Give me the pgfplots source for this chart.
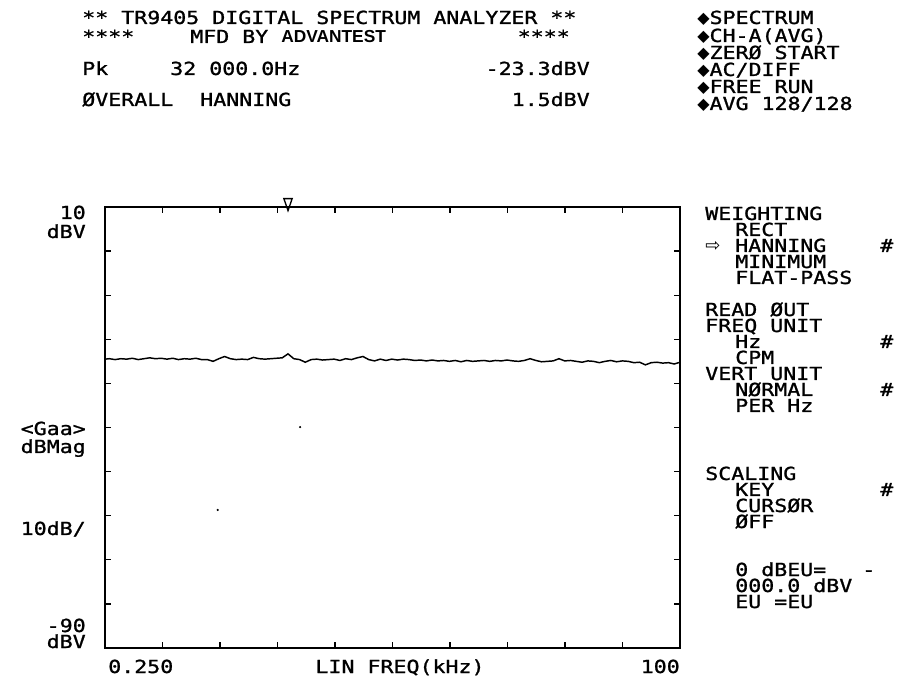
\documentclass[border=0pt]{standalone}
\usepackage{fontspec}
\setmainfont{DejaVu Sans Mono}[FakeStretch=1.2, FakeBold=1.2]
\newfontfamily\sym{DejaVu Sans}
\newfontfamily\logo{Liberation Sans}
\usepackage{pgfplots}
\pgfplotsset{compat=1.18}
\usepackage{pgfplotstable}

\pgfplotstableread{
f dB
0.25 -24.5
1 -24.4
2 -24.6
3 -24.4
4 -24.5
5 -24.3
6 -24.6
7 -24.4
8 -24.2
9 -24.4
10 -24.3
11 -24.5
12 -24.3
13 -24.6
14 -24.4
15 -24.5
16 -24.3
17 -24.6
18 -24.6
19 -25.0
20 -24.4
21 -23.9
22 -24.4
23 -24.6
24 -24.5
25 -24.6
26 -24.1
27 -24.4
28 -24.5
29 -24.4
30 -24.3
31 -24.2
32 -23.3
33 -24.4
34 -24.6
35 -25.2
36 -24.6
37 -24.5
38 -24.7
39 -24.6
40 -24.5
41 -24.8
42 -24.4
43 -24.6
44 -24.2
45 -23.9
46 -24.6
47 -24.9
48 -24.5
49 -24.8
50 -24.5
51 -24.7
52 -24.5
53 -24.6
54 -24.8
55 -24.7
56 -24.9
57 -24.7
58 -24.9
59 -24.8
60 -25.0
61 -24.8
62 -25.1
63 -24.8
64 -25.0
65 -24.9
66 -24.8
67 -25.0
68 -24.8
69 -24.9
70 -24.7
71 -24.9
72 -25.0
73 -24.8
74 -24.4
75 -24.8
76 -25.1
77 -25.0
78 -24.9
79 -24.4
80 -24.9
81 -24.8
82 -25.0
83 -25.2
84 -24.9
85 -25.0
86 -25.3
87 -25.0
88 -24.8
89 -25.1
90 -24.9
91 -25.0
92 -25.3
93 -25.2
94 -25.8
95 -25.3
96 -25.2
97 -25.4
98 -25.3
99 -25.6
100 -25.2
}\trace

\newcommand{\TL}[3]{\node[anchor=base west,inner sep=0pt] at (#1,{682-#2}) {#3};}
\newcommand{\TR}[3]{\node[anchor=base east,inner sep=0pt] at (#1,{682-#2}) {#3};}
\newcommand{\TC}[3]{\node[anchor=base,inner sep=0pt] at (#1,{682-#2}) {#3};}
\newcommand{\dia}{{\sym\fontsize{12}{13}\selectfont ◆}}

\begin{document}
\begin{tikzpicture}[every node/.style={font=\fontsize{13.5}{15}\selectfont}]
\useasboundingbox (0,0) rectangle (679.5pt,511.5pt);
\begin{axis}[
  at={(78.75pt,25.5pt)}, anchor=south west,
  width=431.25pt, height=330.75pt, scale only axis,
  xmin=0.25, xmax=100, ymin=-90, ymax=10,
  xtick={0.25,10.225,20.2,30.175,40.15,50.125,60.1,70.075,80.05,90.025,100},
  ytick={-90,-80,...,10},
  xticklabels={}, yticklabels={},
  tick align=inside, major tick length=4.5pt,
  tick style={black, line width=0.9pt},
  axis line style={black, line width=1.2pt},
  clip=false,
]
\addplot[black, line width=1.1pt] table[x=f,y=dB] {\trace};
\addplot[only marks, mark=triangle, mark size=6pt,
  mark options={rotate=180, xscale=0.6, line width=1pt, fill=white}]
  coordinates {(32,11.0)};
\addplot[only marks, mark=*, mark size=0.6pt] coordinates {(34.1,-39.9) (19.8,-58.7)};
\end{axis}
\begin{scope}[x=0.75pt,y=0.75pt]
% header
\TL{82}{24}{** TR9405 DIGITAL SPECTRUM ANALYZER **}
\TL{82}{43}{****}
\TL{190}{43}{MFD BY {\logo\bfseries\fontsize{13}{14}\selectfont ADVANTEST}}
\TR{570}{43}{****}
\TL{82}{75}{Pk}
\TL{170}{75}{32 000.0Hz}
\TR{590}{75}{-23.3dBV}
\TL{82}{106}{ØVERALL}
\TL{200}{106}{HANNING}
\TR{590}{106}{1.5dBV}
% status column
\TL{697}{24}{\dia SPECTRUM}
\TL{697}{42}{\dia CH-A(AVG)}
\TL{697}{59}{\dia ZERØ START}
\TL{697}{76}{\dia AC/DIFF}
\TL{697}{93}{\dia FREE RUN}
\TL{697}{110}{\dia AVG 128/128}
% menu
\TL{705}{220}{WEIGHTING}
\TL{735}{236}{RECT}
\TL{705}{252}{{\sym ⇨}}
\TL{735}{252}{HANNING}
\TL{880}{252}{\#}
\TL{735}{268}{MINIMUM}
\TL{735}{284}{FLAT-PASS}
\TL{705}{316}{READ ØUT}
\TL{705}{332}{FREQ UNIT}
\TL{735}{348}{Hz}
\TL{880}{348}{\#}
\TL{735}{364}{CPM}
\TL{705}{380}{VERT UNIT}
\TL{735}{396}{NØRMAL}
\TL{880}{396}{\#}
\TL{735}{412}{PER Hz}
\TL{705}{480}{SCALING}
\TL{735}{496}{KEY}
\TL{880}{496}{\#}
\TL{735}{512}{CURSØR}
\TL{735}{528}{ØFF}
\TL{735}{576}{0 dBEU=}
\TL{862}{576}{-}
\TL{735}{592}{000.0 dBV}
\TL{735}{608}{EU =EU}
% axis labels
\TR{86}{219}{10}
\TR{86}{238}{dBV}
\TR{86}{435}{<Gaa>}
\TR{86}{453}{dBMag}
\TR{86}{535}{10dB/}
\TR{86}{632}{-90}
\TR{86}{648}{dBV}
\TL{108}{673}{0.250}
\TC{400}{673}{LIN FREQ(kHz)}
\TR{680}{673}{100}
\end{scope}
\end{tikzpicture}
\end{document}
